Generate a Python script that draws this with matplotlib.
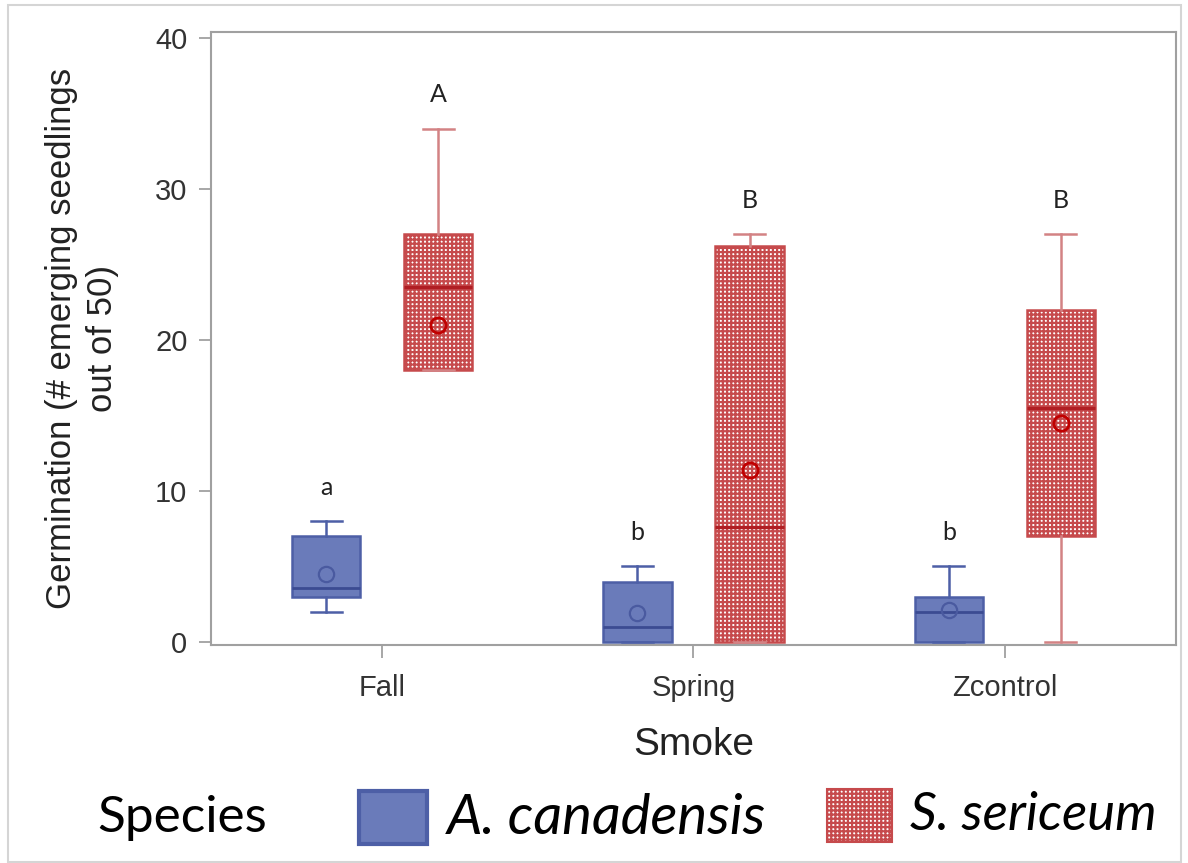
import matplotlib
matplotlib.use("Agg")
import matplotlib.pyplot as plt
from matplotlib.patches import Rectangle

# Smoke treatments on the x axis
smoke = ["Fall", "Spring", "Zcontrol"]
species = ["A. canadensis", "S. sericeum"]

# Box-plot summaries per treatment: A. canadensis
canadensis_whislo = [2, 0, 0]
canadensis_q1 = [3, 0, 0]
canadensis_med = [3.6, 1, 2]
canadensis_q3 = [7, 4, 3]
canadensis_whishi = [8, 5, 5]
canadensis_mean = [4.5, 1.9, 2.1]
canadensis_letters = ["a", "b", "b"]

# Box-plot summaries per treatment: S. sericeum
sericeum_whislo = [18, 0, 0]
sericeum_q1 = [18, 0, 7]
sericeum_med = [23.5, 7.6, 15.5]
sericeum_q3 = [27, 26.2, 22]
sericeum_whishi = [34, 27, 27]
sericeum_mean = [21, 11.4, 14.5]
sericeum_letters = ["A", "B", "B"]

yticks = [0, 10, 20, 30, 40]

BLUE_FACE = "#6A7BBA"
BLUE_EDGE = "#4D5FA6"
BLUE_MED = "#3B4B92"
BLUE_MEAN = "#4A5AA0"
RED_EDGE = "#C64A4C"
RED_WHISK = "#D38284"
RED_MED = "#B01E23"
RED_MEAN = "#C00000"
GREY = "#A0A0A0"

plt.rcParams["hatch.linewidth"] = 1.6
plt.rcParams["font.family"] = ["Liberation Sans", "DejaVu Sans"]


def make_stats(lo, q1, med, q3, hi, mean):
    return [dict(whislo=a, q1=b, med=c, q3=d, whishi=e, mean=f, fliers=[])
            for a, b, c, d, e, f in zip(lo, q1, med, q3, hi, mean)]


fig = plt.figure(figsize=(11.88, 8.63), dpi=100)
ax = fig.add_axes([0.1776, 0.2526, 0.8123, 0.7103])

pos = list(range(len(smoke)))
offset = 0.18
width = 0.22

ax.bxp(make_stats(canadensis_whislo, canadensis_q1, canadensis_med,
                  canadensis_q3, canadensis_whishi, canadensis_mean),
       positions=[p - offset for p in pos], widths=width, capwidths=0.1,
       showmeans=True, showfliers=False, patch_artist=True, manage_ticks=False,
       boxprops=dict(facecolor=BLUE_FACE, edgecolor=BLUE_EDGE, linewidth=1.8),
       whiskerprops=dict(color=BLUE_EDGE, linewidth=1.8),
       capprops=dict(color=BLUE_EDGE, linewidth=1.8),
       medianprops=dict(color=BLUE_MED, linewidth=2.0),
       meanprops=dict(marker="o", markerfacecolor="none",
                      markeredgecolor=BLUE_MEAN, markersize=11,
                      markeredgewidth=1.6))

ax.bxp(make_stats(sericeum_whislo, sericeum_q1, sericeum_med,
                  sericeum_q3, sericeum_whishi, sericeum_mean),
       positions=[p + offset for p in pos], widths=width, capwidths=0.1,
       showmeans=True, showfliers=False, patch_artist=True, manage_ticks=False,
       boxprops=dict(facecolor="white", edgecolor=RED_EDGE, linewidth=1.8,
                     hatch="++++"),
       whiskerprops=dict(color=RED_WHISK, linewidth=1.8),
       capprops=dict(color=RED_WHISK, linewidth=1.8),
       medianprops=dict(color=RED_MED, linewidth=2.4),
       meanprops=dict(marker="o", markerfacecolor="none",
                      markeredgecolor=RED_MEAN, markersize=11,
                      markeredgewidth=2.0))

# Significance letters above each whisker
for p, hi, lab in zip(pos, canadensis_whishi, canadensis_letters):
    ax.annotate(lab, (p - offset, hi), xytext=(0, 19), textcoords="offset points",
                ha="center", va="baseline", fontsize=18, color="#222222",
                family=["Lato", "DejaVu Sans"])
for p, hi, lab in zip(pos, sericeum_whishi, sericeum_letters):
    ax.annotate(lab, (p + offset, hi), xytext=(0, 19), textcoords="offset points",
                ha="center", va="baseline", fontsize=18, color="#222222",
                family=["Lato", "DejaVu Sans"])

ax.set_xlim(-0.55, 2.55)
ax.set_ylim(-0.2, 40.4)
ax.set_xticks(pos)
ax.set_xticklabels(smoke)
ax.set_yticks(yticks)

for s in ax.spines.values():
    s.set_color(GREY)
    s.set_linewidth(1.5)
ax.tick_params(axis="both", colors=GREY, labelcolor="#333333",
               labelsize=21, length=9, width=1.3)
ax.tick_params(axis="x", pad=12)
ax.tick_params(axis="y", pad=8)

ax.set_xlabel("Smoke", fontsize=28, color="#222222", labelpad=18)
ax.set_ylabel("Germination (# emerging seedlings\nout of 50)", fontsize=25,
              color="#222222", labelpad=26, linespacing=1.3)

# Species legend along the bottom
fig.text(97 / 1188, 1 - 818 / 863, "Species", fontsize=37, va="center",
         ha="left", family=["Lato", "DejaVu Sans"], color="black")
fig.patches.append(Rectangle((359 / 1188, 1 - 844 / 863), 68 / 1188, 53 / 863,
                             transform=fig.transFigure, facecolor=BLUE_FACE,
                             edgecolor=BLUE_EDGE, linewidth=3))
fig.text(447 / 1188, 1 - 818 / 863, "A. canadensis", fontsize=40.5, va="center",
         ha="left", style="italic", family=["Lato", "DejaVu Sans"], color="black")
fig.patches.append(Rectangle((827 / 1188, 1 - 842 / 863), 65 / 1188, 53 / 863,
                             transform=fig.transFigure, facecolor="white",
                             edgecolor=RED_EDGE, linewidth=1.5, hatch="++++"))
fig.text(910 / 1188, 1 - 815 / 863, "S. sericeum", fontsize=38, va="center",
         ha="left", style="italic", family=["Lato", "DejaVu Sans"], color="black")

# Light frame round the whole figure
fig.patches.append(Rectangle((8 / 1188, 1 / 863), 1173 / 1188, 857 / 863,
                             transform=fig.transFigure, facecolor="none",
                             edgecolor="#D5D5D5", linewidth=1.5))

fig.savefig("out.png", dpi=100)
